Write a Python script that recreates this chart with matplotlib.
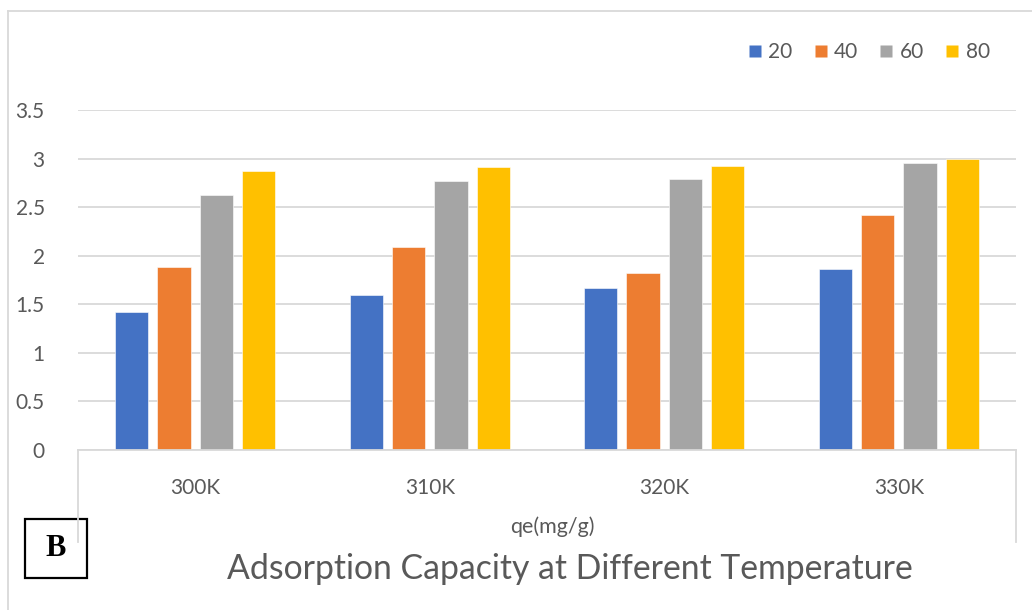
import matplotlib
matplotlib.use("Agg")
from matplotlib import pyplot as plt
from matplotlib.lines import Line2D
from matplotlib.patches import Rectangle
import numpy as np

temps = ["300K", "310K", "320K", "330K"]
series_names = ["20", "40", "60", "80"]
qe_20 = [1.42, 1.60, 1.67, 1.86]
qe_40 = [1.88, 2.09, 1.82, 2.42]
qe_60 = [2.63, 2.77, 2.79, 2.95]
qe_80 = [2.87, 2.91, 2.92, 3.00]
yticks = [0, 0.5, 1, 1.5, 2, 2.5, 3, 3.5]

colors = ["#4472C4", "#ED7D31", "#A5A5A5", "#FFC000"]
grid_c = "#D9D9D9"
text_c = "#595959"

plt.rcParams["font.family"] = ["Lato", "DejaVu Sans"]

fig = plt.figure(figsize=(10.32, 6.10), dpi=100)
ax = fig.add_axes([78 / 1032, 1 - 450 / 610, (1016 - 78) / 1032, (450 - 110) / 610])

x = np.arange(len(temps))
step = 0.181
width = 0.141
all_series = [qe_20, qe_40, qe_60, qe_80]
for i, vals in enumerate(all_series):
    ax.bar(x + (i - 1.5) * step, vals, width, color=colors[i], zorder=3,
           edgecolor="white", linewidth=0.4)

ax.set_xlim(-0.5, len(temps) - 0.5)
ax.set_ylim(0, 3.5)
ax.set_yticks(yticks)
ax.set_yticklabels([f"{t:g}" for t in yticks])
ax.set_xticks(x)
ax.set_xticklabels(temps)
ax.tick_params(axis="y", length=0, pad=24, labelsize=15, labelcolor=text_c)
ax.tick_params(axis="x", length=0, pad=20, labelsize=15, labelcolor=text_c)
ax.yaxis.grid(True, color=grid_c, linewidth=1.3, zorder=0)
for side in ["top", "right", "left"]:
    ax.spines[side].set_visible(False)
ax.spines["bottom"].set_color(grid_c)
ax.spines["bottom"].set_linewidth(1.3)
ax.spines["bottom"].set_zorder(4)

# side lines of the category axis box
for xf in [78 / 1032, 1016 / 1032]:
    fig.add_artist(Line2D([xf, xf], [1 - 450 / 610, 1 - 542 / 610],
                          color=grid_c, linewidth=1.3))

# outer chart border
fig.add_artist(Line2D([8 / 1032, 8 / 1032], [0, 1 - 11 / 610], color=grid_c, linewidth=1.3))
fig.add_artist(Line2D([8 / 1032, 1], [1 - 11 / 610, 1 - 11 / 610], color=grid_c, linewidth=1.3))

fig.text(552 / 1032, 1 - 527 / 610, "qe(mg/g)", ha="center", va="center",
         fontsize=15.5, color=text_c)
fig.text(570 / 1032, 1 - 569 / 610, "Adsorption Capacity at Different Temperature",
         ha="center", va="center", fontsize=24.3, color=text_c)

# panel letter box
fig.add_artist(Rectangle((25 / 1032, 1 - 578 / 610), 62 / 1032, 59 / 610,
                         transform=fig.transFigure, facecolor="white",
                         edgecolor="black", linewidth=1.6))
fig.text(56 / 1032, 1 - 549 / 610, "B", ha="center", va="center", fontsize=22,
         fontweight="bold", family=["Liberation Serif", "DejaVu Serif"], color="black")

handles = [Line2D([], [], linestyle="none", marker="s", markersize=9,
                  markerfacecolor=c, markeredgecolor="none") for c in colors]
fig.legend(handles, series_names, loc="center right", ncol=4,
           bbox_to_anchor=(990 / 1032, 1 - 52 / 610), frameon=False,
           fontsize=15, labelcolor=text_c, handlelength=0.7,
           handletextpad=0.3, columnspacing=1.0, borderpad=0, borderaxespad=0)

fig.savefig("out.png", dpi=100)
